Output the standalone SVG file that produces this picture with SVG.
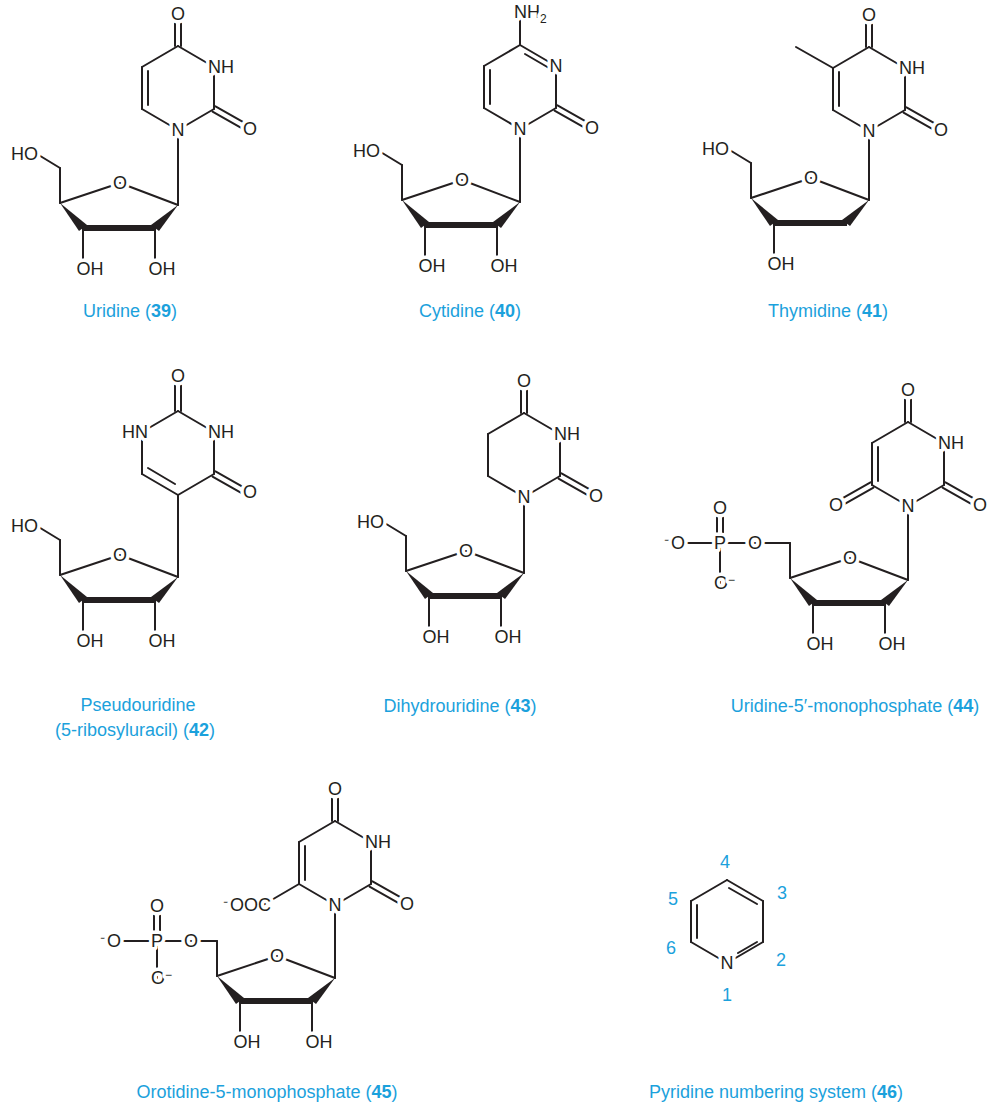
<svg xmlns="http://www.w3.org/2000/svg" xmlns:xlink="http://www.w3.org/1999/xlink" width="998" height="1105" viewBox="0 0 998 1105">
<style>
line,polyline{stroke:#231f20;stroke-width:2;fill:none;stroke-linecap:round}
.w{fill:#231f20;stroke:none}
.b{stroke-width:6;stroke-linecap:butt}
.a{font-family:"Liberation Sans",Arial,sans-serif;font-size:18px;fill:#231f20;stroke:#fff;stroke-width:7;paint-order:stroke;stroke-linejoin:round}
.s{font-size:12px}
.l{font-family:"Liberation Sans",Arial,sans-serif;font-size:18px;fill:#1ba1dc;text-anchor:middle}
.l tspan.n{font-weight:bold}
.m{text-anchor:middle}
</style>
<defs>
<g id="sugar">
<line x1="-118" y1="-2" x2="-58" y2="-22"/>
<line x1="-58" y1="-22" x2="0" y2="0"/>
<polygon class="w" points="-118,-2 -99,26 -91,20"/>
<line class="b" x1="-96" y1="23" x2="-22" y2="23"/>
<polygon class="w" points="0,0 -27,20 -19,26"/>
<line x1="-118" y1="-2" x2="-118" y2="-37"/>
<line x1="-95" y1="23" x2="-95" y2="55"/>
<text class="a m" x="-58" y="-16">O</text>
<text class="a" x="-101.5" y="70">OH</text>
</g>
<g id="oh2">
<line x1="-23" y1="23" x2="-23" y2="55"/>
<text class="a" x="-29.5" y="70">OH</text>
</g>
<g id="ho">
<line x1="-118" y1="-37" x2="-141" y2="-51"/>
<text class="a" x="-140" y="-45" text-anchor="end">HO</text>
</g>
<g id="ring">
<line x1="0" y1="0" x2="36" y2="-21"/>
<line x1="36" y1="-21" x2="36" y2="-63"/>
<line x1="36" y1="-63" x2="0" y2="-84"/>
<line x1="0" y1="-84" x2="-36" y2="-63"/>
<line x1="-36" y1="-63" x2="-36" y2="-21"/>
<line x1="-36" y1="-21" x2="0" y2="0"/>
<line x1="34.5" y1="-18.4" x2="64.5" y2="-1.4"/>
<line x1="37.5" y1="-23.6" x2="67.5" y2="-6.6"/>
</g>
<g id="co4">
<line x1="-3" y1="-84" x2="-3" y2="-112"/>
<line x1="3" y1="-84" x2="3" y2="-112"/>
<text class="a m" x="0" y="-110">O</text>
</g>
<g id="labs">
<text class="a m" x="0" y="6">N</text>
<text class="a m" x="72" y="5">O</text>
</g>
</defs>

<!-- Uridine -->
<g id="uridine" transform="translate(178,130)">
<use xlink:href="#ring"/>
<line x1="-30" y1="-59" x2="-30" y2="-25"/>
<line x1="0" y1="0" x2="0" y2="75"/>
<use xlink:href="#co4"/>
<use xlink:href="#labs"/>
<text class="a" x="30" y="-57">NH</text>
<g transform="translate(0,75)"><use xlink:href="#sugar"/><use xlink:href="#oh2"/><use xlink:href="#ho"/></g>
</g>

<!-- Cytidine -->
<g id="cytidine" transform="translate(520,129)">
<use xlink:href="#ring"/>
<line x1="-30" y1="-59" x2="-30" y2="-25"/>
<line x1="5" y1="-75" x2="29" y2="-61"/>
<line x1="0" y1="-84" x2="0" y2="-110"/>
<line x1="0" y1="0" x2="0" y2="73"/>
<use xlink:href="#labs"/>
<text class="a m" x="36" y="-57">N</text>
<text class="a" x="-6" y="-111">NH<tspan class="s" dy="5">2</tspan></text>
<g transform="translate(0,73)"><use xlink:href="#sugar"/><use xlink:href="#oh2"/><use xlink:href="#ho"/></g>
</g>

<!-- Thymidine -->
<g id="thymidine" transform="translate(869,131)">
<use xlink:href="#ring"/>
<line x1="-30" y1="-59" x2="-30" y2="-25"/>
<line x1="-36" y1="-63" x2="-73" y2="-84"/>
<line x1="0" y1="0" x2="0" y2="69"/>
<use xlink:href="#co4"/>
<use xlink:href="#labs"/>
<text class="a" x="30" y="-57">NH</text>
<g transform="translate(0,69)"><use xlink:href="#sugar"/><use xlink:href="#ho"/></g>
</g>

<!-- Pseudouridine -->
<g id="pseudouridine">
<line x1="178" y1="495" x2="214" y2="474"/>
<line x1="214" y1="474" x2="214" y2="432"/>
<line x1="214" y1="432" x2="178" y2="411"/>
<line x1="178" y1="411" x2="142" y2="432"/>
<line x1="142" y1="432" x2="142" y2="474"/>
<line x1="142" y1="474" x2="178" y2="495"/>
<line x1="148" y1="468" x2="175" y2="484"/>
<line x1="175" y1="411" x2="175" y2="384"/>
<line x1="181" y1="411" x2="181" y2="384"/>
<line x1="212.5" y1="476.6" x2="242.5" y2="493.6"/>
<line x1="215.5" y1="471.4" x2="245.5" y2="488.4"/>
<line x1="178" y1="495" x2="178" y2="577"/>
<text class="a m" x="178" y="382">O</text>
<text class="a" x="148" y="438" text-anchor="end">HN</text>
<text class="a" x="208" y="438">NH</text>
<text class="a m" x="250" y="498">O</text>
<g transform="translate(178,577)"><use xlink:href="#sugar"/><use xlink:href="#oh2"/><use xlink:href="#ho"/></g>
</g>

<!-- Dihydrouridine -->
<g id="dihydrouridine" transform="translate(524,497)">
<use xlink:href="#ring"/>
<line x1="0" y1="0" x2="0" y2="76"/>
<use xlink:href="#co4"/>
<use xlink:href="#labs"/>
<text class="a" x="30" y="-57">NH</text>
<g transform="translate(0,76)"><use xlink:href="#sugar"/><use xlink:href="#oh2"/><use xlink:href="#ho"/></g>
</g>

<!-- UMP -->
<g id="ump">
<g transform="translate(908,506)">
<use xlink:href="#ring"/>
<line x1="-30" y1="-59" x2="-30" y2="-25"/>
<line x1="-34.5" y1="-18.4" x2="-64.5" y2="-1.4"/>
<line x1="-37.5" y1="-23.6" x2="-67.5" y2="-6.6"/>
<line x1="0" y1="0" x2="0" y2="74"/>
<use xlink:href="#co4"/>
<use xlink:href="#labs"/>
<text class="a m" x="-72" y="5">O</text>
<text class="a" x="30" y="-57">NH</text>
<g transform="translate(0,74)"><use xlink:href="#sugar"/><use xlink:href="#oh2"/></g>
</g>
<line x1="790" y1="543" x2="686" y2="543"/>
<line x1="717" y1="543" x2="717" y2="508"/>
<line x1="723" y1="543" x2="723" y2="508"/>
<line x1="720" y1="543" x2="720" y2="583"/>
<text class="a m" x="755" y="549">O</text>
<text class="a m" x="720" y="549">P</text>
<text class="a m" x="720" y="514">O</text>
<text class="a" x="664" y="549"><tspan class="s" dy="-5">−</tspan><tspan dy="5">O</tspan></text>
<text class="a" x="714" y="589">O<tspan class="s" dy="-5">−</tspan></text>
</g>

<!-- OMP -->
<g id="omp">
<g transform="translate(335,905)">
<use xlink:href="#ring"/>
<line x1="-30" y1="-59" x2="-30" y2="-25"/>
<line x1="-36" y1="-21" x2="-72" y2="0"/>
<line x1="0" y1="0" x2="0" y2="73"/>
<use xlink:href="#co4"/>
<use xlink:href="#labs"/>
<text class="a" x="-64" y="6" text-anchor="end"><tspan class="s" dy="-5">−</tspan><tspan dy="5">OOC</tspan></text>
<text class="a" x="30" y="-57">NH</text>
<g transform="translate(0,73)"><use xlink:href="#sugar"/><use xlink:href="#oh2"/></g>
</g>
<line x1="217" y1="941" x2="122" y2="941"/>
<line x1="154" y1="941" x2="154" y2="906"/>
<line x1="160" y1="941" x2="160" y2="906"/>
<line x1="157" y1="941" x2="157" y2="978"/>
<text class="a m" x="191" y="947">O</text>
<text class="a m" x="157" y="947">P</text>
<text class="a m" x="157" y="912">O</text>
<text class="a" x="100" y="947"><tspan class="s" dy="-5">−</tspan><tspan dy="5">O</tspan></text>
<text class="a" x="151" y="984">O<tspan class="s" dy="-5">−</tspan></text>
</g>

<!-- Pyridine -->
<g id="pyridine">
<line x1="727" y1="880" x2="763" y2="901"/>
<line x1="763" y1="901" x2="763" y2="942"/>
<line x1="763" y1="942" x2="727" y2="963"/>
<line x1="727" y1="963" x2="691" y2="942"/>
<line x1="691" y1="942" x2="691" y2="901"/>
<line x1="691" y1="901" x2="727" y2="880"/>
<line x1="729" y1="888" x2="757" y2="904"/>
<line x1="697" y1="905" x2="697" y2="938"/>
<line x1="738" y1="953" x2="757" y2="942"/>
<text class="a m" x="727" y="969">N</text>
<text class="l" x="725" y="868">4</text>
<text class="l" x="782" y="899">3</text>
<text class="l" x="673" y="905">5</text>
<text class="l" x="671" y="954">6</text>
<text class="l" x="781" y="966">2</text>
<text class="l" x="727" y="1001">1</text>
</g>

<g id="labels">
<text class="l" x="130" y="317">Uridine (<tspan class="n">39</tspan>)</text>
<text class="l" x="470" y="317">Cytidine (<tspan class="n">40</tspan>)</text>
<text class="l" x="828" y="317">Thymidine (<tspan class="n">41</tspan>)</text>
<text class="l" x="138" y="711">Pseudouridine</text>
<text class="l" x="135" y="736">(5-ribosyluracil) (<tspan class="n">42</tspan>)</text>
<text class="l" x="460" y="712">Dihydrouridine (<tspan class="n">43</tspan>)</text>
<text class="l" x="855" y="712">Uridine-5′-monophosphate (<tspan class="n">44</tspan>)</text>
<text class="l" x="267" y="1098">Orotidine-5-monophosphate (<tspan class="n">45</tspan>)</text>
<text class="l" x="776" y="1098">Pyridine numbering system (<tspan class="n">46</tspan>)</text>
</g>
</svg>
